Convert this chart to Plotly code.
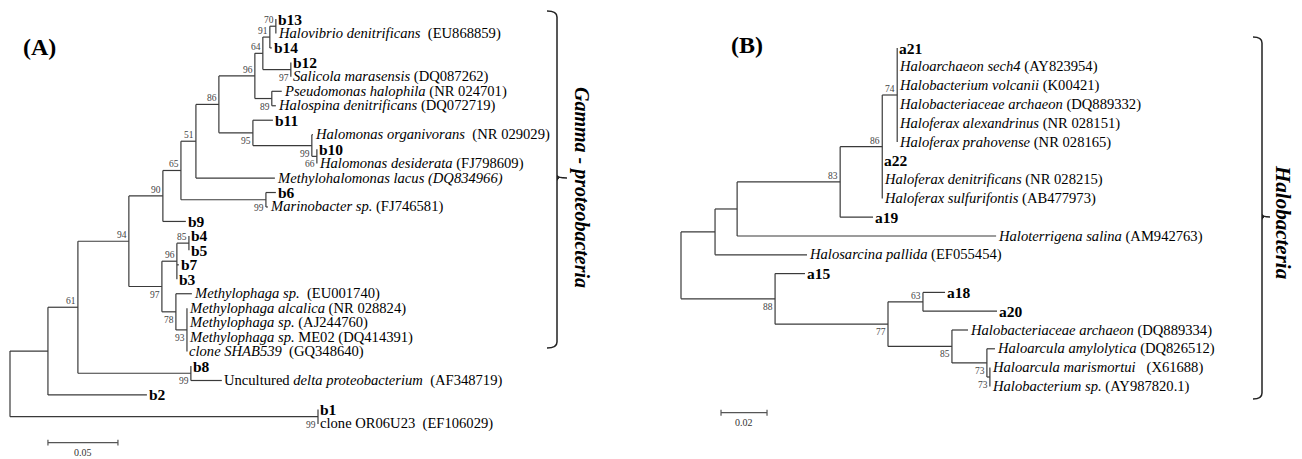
import plotly.graph_objects as go

W, H = 1302, 459

# ---------------- data ----------------
def N(bl, bs, kids):
    return {"bl": bl, "bs": bs, "kids": kids}

def T(i, bl):
    return {"tip": i, "bl": bl}

A_labels = [
    "<b>b13</b>",
    "<i>Halovibrio denitrificans</i>  (EU868859)",
    "<b>b14</b>",
    "<b>b12</b>",
    "<i>Salicola marasensis</i> (DQ087262)",
    "<i>Pseudomonas halophila</i> (NR 024701)",
    "<i>Halospina denitrificans</i> (DQ072719)",
    "<b>b11</b>",
    "<i>Halomonas organivorans</i>  (NR 029029)",
    "<b>b10</b>",
    "<i>Halomonas desiderata</i> (FJ798609)",
    "<i>Methylohalomonas lacus (DQ834966)</i>",
    "<b>b6</b>",
    "<i>Marinobacter sp.</i> (FJ746581)",
    "<b>b9</b>",
    "<b>b4</b>",
    "<b>b5</b>",
    "<b>b7</b>",
    "<b>b3</b>",
    "<i>Methylophaga sp.</i>  (EU001740)",
    "<i>Methylophaga alcalica</i> (NR 028824)",
    "<i>Methylophaga sp.</i> (AJ244760)",
    "<i>Methylophaga sp.</i> ME02 (DQ414391)",
    "<i>clone SHAB539</i>  (GQ348640)",
    "<b>b8</b>",
    "Uncultured <i>delta proteobacterium</i>  (AF348719)",
    "<b>b2</b>",
    "<b>b1</b>",
    "clone OR06U23  (EF106029)",
]

A_tree = N(0, None, [
    N(0.0271, None, [
        N(0.0214, 61, [
            N(0.0364, 94, [
                N(0.0243, 90, [
                    N(0.0129, 65, [
                        N(0.0107, 51, [
                            N(0.0164, 86, [
                                N(0.0257, 96, [
                                    N(0.0057, 64, [
                                        N(0.0050, 91, [
                                            N(0.0043, 70, [T(0, 0), T(1, 0)]),
                                            T(2, 0.0014)]),
                                        N(0.0200, 97, [T(3, 0), T(4, 0)])]),
                                    N(0.0121, 89, [T(5, 0.0071), T(6, 0.0029)])]),
                                N(0.0243, 95, [
                                    T(7, 0.0143),
                                    N(0.0421, 99, [T(8, 0.0007),
                                                   N(0.0036, 66, [T(9, 0), T(10, 0)])])])]),
                            T(11, 0.0564)]),
                        N(0.0607, 99, [T(12, 0.0071), T(13, 0.0014)])]),
                    T(14, 0.0164)]),
                N(0.0236, 97, [
                    N(0.0107, 96, [N(0.0086, 85, [T(15, 0), T(16, 0)]), T(17, 0.0014), T(18, 0)]),
                    N(0.0100, 78, [T(19, 0.0114),
                                   N(0.0079, 93, [T(20, 0), T(21, 0), T(22, 0), T(23, 0)])])])]),
            N(0.0807, 99, [T(24, 0), T(25, 0.0221)])]),
        T(26, 0.0707)]),
    N(0.2200, 99, [T(27, 0), T(28, 0)])])

B_labels = [
    "<b>a21</b>",
    "<i>Haloarchaeon sech4</i> (AY823954)",
    "<i>Halobacterium volcanii</i> (K00421)",
    "<i>Halobacteriaceae archaeon</i> (DQ889332)",
    "<i>Haloferax alexandrinus</i> (NR 028151)",
    "<i>Haloferax prahovense</i> (NR 028165)",
    "<b>a22</b>",
    "<i>Haloferax denitrificans</i> (NR 028215)",
    "<i>Haloferax sulfurifontis</i> (AB477973)",
    "<b>a19</b>",
    "<i>Haloterrigena salina</i> (AM942763)",
    "<i>Halosarcina pallida</i> (EF055454)",
    "<b>a15</b>",
    "<b>a18</b>",
    "<b>a20</b>",
    "<i>Halobacteriaceae archaeon</i> (DQ889334)",
    "<i>Haloarcula amylolytica</i> (DQ826512)",
    "<i>Haloarcula marismortui</i>   (X61688)",
    "<i>Halobacterium sp.</i> (AY987820.1)",
]

B_tree = N(0, None, [
    N(0.0148, None, [
        N(0.0096, None, [
            N(0.0448, 83, [
                N(0.0183, 86, [
                    N(0.0065, 74, [T(0, 0), T(1, 0), T(2, 0), T(3, 0), T(4, 0), T(5, 0)]),
                    T(6, 0), T(7, 0), T(8, 0)]),
                T(9, 0.0143)]),
            T(10, 0.1126)]),
        T(11, 0.0400)]),
    N(0.0409, 88, [
        T(12, 0.0130),
        N(0.0491, 77, [
            N(0.0152, 63, [T(13, 0.0096), T(14, 0.0322)]),
            N(0.0278, 85, [T(15, 0.0070),
                           N(0.0152, 73, [T(16, 0.0035),
                                          N(0.0013, 73, [T(17, 0), T(18, 0)])])])])])])

scale_A = 0.05
scale_B = 0.02
group_A = "Gamma - proteobacteria"
group_B = "Halobacteria"

# ---------------- helpers ----------------
LINE = "#3a3a3a"
SERIF = "Liberation Serif, Times New Roman, serif"


def px(x):
    return x / W


def py(y):
    return 1 - y / H


def walk(node, parent_x, segs, tips, boots):
    x = (parent_x if parent_x is not None else 0) + node["bl"]
    if "tip" in node:
        y = node["tip"]
        tips.append((node["tip"], x))
    else:
        cys = []
        for k, child in enumerate(node["kids"]):
            cy = walk(child, x, segs, tips, boots)
            cys.append(cy)
            if child.get("bs") is not None:
                first = k == 0
                boots.append((x + child["bl"], cy, child["bs"], first))
        y = (cys[0] + cys[-1]) / 2
        segs.append(((x, cys[0]), (x, cys[-1])))
    if parent_x is not None:
        segs.append(((parent_x, y), (x, y)))
    return y


fig = go.Figure()
annotations = []


def draw_tree(tree, labels, xa, ya):
    segs, tips, boots = [], [], []
    walk(tree, None, segs, tips, boots)
    xs, ys = [], []
    for (x0, y0), (x1, y1) in segs:
        xs += [x0, x1, None]
        ys += [y0, y1, None]
    fig.add_trace(go.Scatter(x=xs, y=ys, mode="lines", xaxis=xa, yaxis=ya,
                             line=dict(color=LINE, width=1.2), hoverinfo="skip"))
    for i, x in tips:
        lab = labels[i].replace("  ", "\u00a0\u00a0")
        bold = lab.startswith("<b>")
        annotations.append(dict(
            x=x, y=i, xref=xa, yref=ya, text=lab, showarrow=False,
            xanchor="left", yanchor="middle", xshift=1, borderpad=0,
            font=dict(family=SERIF, size=15.5 if bold else 14.6, color="#000")))
    for x, y, bs, first in boots:
        annotations.append(dict(
            x=x, y=y, xref=xa, yref=ya, text=str(bs), showarrow=False,
            xanchor="right", yanchor="middle", xshift=-1, borderpad=0,
            yshift=6 if first else -8,
            font=dict(family=SERIF, size=9.5, color="#444")))


draw_tree(A_tree, A_labels, "x", "y")
draw_tree(B_tree, B_labels, "x2", "y2")


# scale bars
def scale_bar(x0, length, y, xa, ya, tick):
    fig.add_trace(go.Scatter(
        x=[x0, x0 + length, None, x0, x0, None, x0 + length, x0 + length],
        y=[y, y, None, y - tick, y + tick, None, y - tick, y + tick],
        mode="lines", xaxis=xa, yaxis=ya, line=dict(color="#555", width=1.2),
        hoverinfo="skip"))
    annotations.append(dict(x=x0 + length / 2, y=y, xref=xa, yref=ya,
                            text=f"{length:g}", showarrow=False, yanchor="top",
                            xanchor="center", yshift=-2,
                            font=dict(family=SERIF, size=10, color="#333")))


scale_bar(0.0271, scale_A, 29.3, "x", "y", 0.2)
scale_bar(0.0174, scale_B, 19.4, "x2", "y2", 0.16)

# panel letters
annotations.append(dict(x=px(39), y=py(47), xref="paper", yref="paper", text="<b>(A)</b>",
                        xanchor="center", yanchor="middle",
                        showarrow=False, font=dict(family=SERIF, size=24, color="#000")))
annotations.append(dict(x=px(747), y=py(45), xref="paper", yref="paper", text="<b>(B)</b>",
                        xanchor="center", yanchor="middle",
                        showarrow=False, font=dict(family=SERIF, size=24, color="#000")))

# group labels
annotations.append(dict(x=px(582), y=py(187), xref="paper", yref="paper",
                        xanchor="center", yanchor="middle",
                        text=f"<b><i>{group_A}</i></b>", textangle=90, showarrow=False,
                        font=dict(family=SERIF, size=20, color="#000")))
annotations.append(dict(x=px(1283), y=py(222), xref="paper", yref="paper",
                        xanchor="center", yanchor="middle",
                        text=f"<b><i>{group_B}</i></b>", textangle=90, showarrow=False,
                        font=dict(family=SERIF, size=21, color="#000")))


def bracket(xv, y0, y1, ym, hook, tick):
    p = (f"M {px(xv - hook)} {py(y0)} Q {px(xv)} {py(y0)} {px(xv)} {py(y0 + 6)} "
         f"L {px(xv)} {py(y1 - 6)} Q {px(xv)} {py(y1)} {px(xv - hook)} {py(y1)} "
         f"M {px(xv)} {py(ym - 3)} Q {px(xv)} {py(ym)} {px(xv + tick)} {py(ym)} "
         f"M {px(xv)} {py(ym + 3)} Q {px(xv)} {py(ym)} {px(xv + 2)} {py(ym)}")
    return dict(type="path", path=p, xref="paper", yref="paper",
                line=dict(color="#222", width=1.5))


shapes = [bracket(557, 11, 348, 178, 10, 10), bracket(1262, 37, 399, 217, 9, 8)]

fig.update_layout(
    width=W, height=H, margin=dict(l=0, r=0, t=0, b=0),
    paper_bgcolor="white", plot_bgcolor="white", showlegend=False,
    hovermode=False,
    xaxis=dict(range=[-10 / 1400, (W - 10) / 1400], visible=False, domain=[0, 1]),
    yaxis=dict(range=[(H - 19) / 14.46, -19 / 14.46], visible=False, domain=[0, 1]),
    xaxis2=dict(range=[-681 / 2300, (W - 681) / 2300], visible=False,
                overlaying="x", anchor="y2"),
    yaxis2=dict(range=[(H - 48) / 18.8, -48 / 18.8], visible=False,
                overlaying="y", anchor="x2"),
    annotations=annotations, shapes=shapes,
)

fig.write_html("out.html", config={"displayModeBar": False},
               post_script="document.body.style.margin='0';document.body.style.overflow='hidden';")
